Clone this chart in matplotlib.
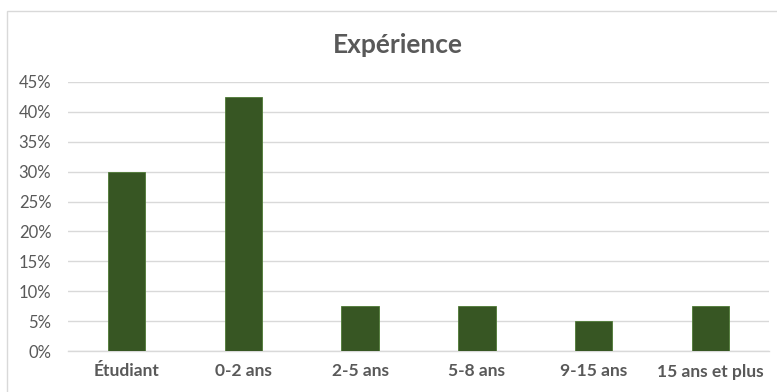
import matplotlib.pyplot as plt
from matplotlib.patches import Rectangle
from matplotlib.ticker import PercentFormatter

categories = ['Étudiant', '0-2 ans', '2-5 ans', '5-8 ans', '9-15 ans', '15 ans et plus']
values = [0.30, 0.425, 0.075, 0.075, 0.05, 0.075]
yticks = [0, 0.05, 0.10, 0.15, 0.20, 0.25, 0.30, 0.35, 0.40, 0.45]

text_color = '#595959'
plt.rcParams['font.family'] = ['Lato', 'DejaVu Sans']

fig = plt.figure(figsize=(7.77, 3.92), dpi=100)

# chart frame like the spreadsheet export
fig.patches.append(Rectangle((7 / 777, -0.01), 1.0, 1 - 11 / 392 + 0.01,
                             transform=fig.transFigure, fill=False,
                             edgecolor='#D9D9D9', linewidth=1.0))

ax = fig.add_axes([68 / 777, 1 - 351 / 392, 701 / 777, (351 - 82) / 392])
ax.bar(range(len(categories)), values, width=0.32, color='#375623',
       edgecolor='#4E7A35', linewidth=0.6, zorder=3)

ax.set_xlim(-0.5, len(categories) - 0.5)
ax.set_ylim(0, 0.45)
ax.set_yticks(yticks)
ax.yaxis.set_major_formatter(PercentFormatter(1.0, decimals=0))
ax.set_xticks(range(len(categories)))
ax.set_xticklabels(categories, fontweight='bold')

ax.tick_params(axis='y', length=0, pad=12, labelsize=12, labelcolor=text_color)
ax.tick_params(axis='x', length=0, pad=9, labelsize=12.5, labelcolor=text_color)
ax.grid(axis='y', color='#D9D9D9', linewidth=1.0, zorder=0)
for side in ['top', 'right', 'left']:
    ax.spines[side].set_visible(False)
ax.spines['bottom'].set_color('#D9D9D9')
ax.spines['bottom'].set_linewidth(1.0)

fig.text(398 / 777, 1 - 45 / 392, 'Expérience', ha='center', va='center',
         fontsize=19, fontweight='bold', color=text_color)

fig.savefig('out.png', dpi=100)
